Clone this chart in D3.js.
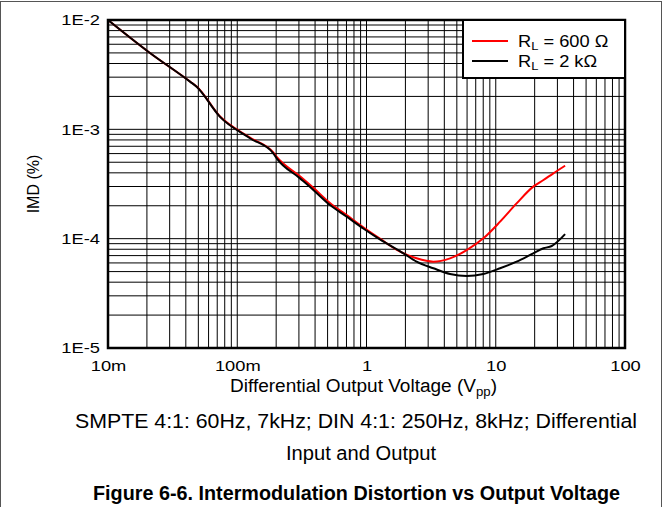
<!DOCTYPE html>
<html><head><meta charset="utf-8">
<script src="https://cdn.jsdelivr.net/npm/d3@7"></script>
<style>body{margin:0;background:#fff}svg{display:block}text{font-family:"Liberation Sans",Arial,sans-serif}</style>
</head><body><svg id="c" width="663" height="507"></svg>
<script>
const xTicks = [0.01, 0.1, 1, 10, 100];
const xTickLabels = ["10m", "100m", "1", "10", "100"];
const yTicks = [1e-2, 1e-3, 1e-4, 1e-5];
const yTickLabels = ["1E-2", "1E-3", "1E-4", "1E-5"];
const seriesNames = ["600", "2k"];
const red600x = [0.01,0.0205,0.0431,0.0485,0.0736,0.1255,0.19,0.202,0.306,0.388,0.522,0.703,0.944,1.27,1.82,2.44,3.29,4.43,5.96,8.02,10.8,14.5,19.5,23.4,27.9,34.4];
const red600y = [1e-2,5.13e-3,2.74e-3,2.47e-3,1.31e-3,8.4e-4,6.15e-4,5.6e-4,3.72e-4,2.92e-4,2.12e-4,1.64e-4,1.27e-4,1.0e-4,7.6e-5,6.61e-5,6.16e-5,6.61e-5,7.87e-5,1.007e-4,1.43e-4,2.10e-4,2.99e-4,3.44e-4,3.96e-4,4.65e-4];
const blk2kx = [0.01,0.0205,0.0431,0.0485,0.0736,0.1255,0.19,0.202,0.306,0.388,0.522,0.703,0.944,1.27,1.93,2.44,3.29,4.43,5.96,8.02,10.8,14.5,19.5,23.4,27.1,34.4];
const blk2ky = [1e-2,5.13e-3,2.73e-3,2.45e-3,1.30e-3,8.28e-4,6.04e-4,5.43e-4,3.56e-4,2.79e-4,2.03e-4,1.59e-4,1.24e-4,9.86e-5,7.35e-5,6.16e-5,5.36e-5,4.75e-5,4.55e-5,4.75e-5,5.36e-5,6.16e-5,7.35e-5,8.17e-5,8.57e-5,1.10e-4];

const svg = d3.select("#c");
const L = 108, R = 625, T = 20, B = 348;
const x = d3.scaleLog().domain([0.01, 100]).range([L, R]);
const y = d3.scaleLog().domain([1e-5, 1e-2]).range([B, T]);
const FF = '"Liberation Sans",Arial,sans-serif';

// outer border
svg.append("rect").attr("x", 0.5).attr("y", 1.5).attr("width", 661).attr("height", 540)
  .attr("fill", "none").attr("stroke", "#555").attr("stroke-width", 1);

// grid
const g = svg.append("g");
const xgrid = [];
for (let d = -2; d < 2; d++) for (let m = 1; m < 10; m++) xgrid.push(m * Math.pow(10, d));
const ygrid = [];
for (let d = -5; d < -2; d++) for (let m = 1; m < 10; m++) ygrid.push(m * Math.pow(10, d));
g.selectAll(".vx").data(xgrid).join("line")
  .attr("x1", d => x(d)).attr("x2", d => x(d)).attr("y1", T).attr("y2", B)
  .attr("stroke", "#000").attr("stroke-width", 1);
g.selectAll(".hy").data(ygrid).join("line")
  .attr("y1", d => y(d)).attr("y2", d => y(d)).attr("x1", L).attr("x2", R)
  .attr("stroke", "#000").attr("stroke-width", 1);

// curves
const line = d3.line().x(d => x(d[0])).y(d => y(d[1])).curve(d3.curveMonotoneX);
svg.append("path").datum(red600x.map((v, i) => [v, red600y[i]]))
  .attr("d", line).attr("fill", "none").attr("stroke", "#ff0000").attr("stroke-width", 2);
svg.append("path").datum(blk2kx.map((v, i) => [v, blk2ky[i]]))
  .attr("d", line).attr("fill", "none").attr("stroke", "#000").attr("stroke-width", 2);

// frame
svg.append("rect").attr("x", L).attr("y", T).attr("width", R - L).attr("height", B - T)
  .attr("fill", "none").attr("stroke", "#000").attr("stroke-width", 2.5);

// axes labels via d3 axes
const xAxis = d3.axisBottom(x).tickValues(xTicks).tickFormat((d, i) => xTickLabels[i]).tickSize(0).tickPadding(12);
const xa = svg.append("g").attr("transform", `translate(0,${B})`).call(xAxis);
xa.select(".domain").remove();
xa.selectAll("text").attr("font-size", 15).attr("fill", "#000").style("font-family", FF)
  .attr("transform", "scale(1.22,1)");
const yAxis = d3.axisLeft(y).tickValues(yTicks).tickFormat((d, i) => yTickLabels[i]).tickSize(0).tickPadding(8);
const ya = svg.append("g").attr("transform", `translate(${L},0)`).call(yAxis);
ya.select(".domain").remove();
ya.selectAll("text").attr("font-size", 15).attr("fill", "#000").style("font-family", FF)
  .attr("x", -8 / 1.22).attr("transform", "scale(1.22,1)");

// axis titles
const xt = svg.append("text").attr("x", 363.5).attr("y", 392).attr("text-anchor", "middle").attr("font-size", 18)
  .attr("textLength", 267).attr("lengthAdjust", "spacingAndGlyphs");
xt.append("tspan").text("Differential Output Voltage (V");
xt.append("tspan").attr("font-size", 12.5).attr("dy", 4).text("pp");
xt.append("tspan").attr("dy", -4).text(")");
svg.append("text").attr("transform", `translate(39,${(T + B) / 2}) rotate(-90)`)
  .attr("text-anchor", "middle").attr("font-size", 16).text("IMD (%)");

// legend
const lg = svg.append("g");
lg.append("rect").attr("x", 463).attr("y", T).attr("width", R - 463).attr("height", 58)
  .attr("fill", "#fff").attr("stroke", "#000").attr("stroke-width", 2);
const legItems = [{c: "#ff0000", main: " = 600 \u03A9"}, {c: "#000", main: " = 2 k\u03A9"}];
legItems.forEach((it, i) => {
  const yy = 41 + i * 20;
  lg.append("line").attr("x1", 472).attr("x2", 508).attr("y1", yy).attr("y2", yy).attr("stroke", it.c).attr("stroke-width", 2);
  const t = lg.append("text").attr("x", 518 / 1.12).attr("y", yy + 6).attr("font-size", 16.3)
    .attr("transform", "scale(1.12,1)");
  t.append("tspan").text("R");
  t.append("tspan").attr("font-size", 11.5).attr("dy", 3).text("L");
  t.append("tspan").attr("dy", -3).text(it.main);
});

// captions
svg.append("text").attr("x", 356).attr("y", 428).attr("text-anchor", "middle").attr("font-size", 19.5)
  .attr("textLength", 562).attr("lengthAdjust", "spacingAndGlyphs")
  .text("SMPTE 4:1: 60Hz, 7kHz; DIN 4:1: 250Hz, 8kHz; Differential");
svg.append("text").attr("x", 361).attr("y", 460).attr("text-anchor", "middle").attr("font-size", 19.5)
  .attr("textLength", 150).attr("lengthAdjust", "spacingAndGlyphs")
  .text("Input and Output");
svg.append("text").attr("x", 356.5).attr("y", 500).attr("text-anchor", "middle").attr("font-size", 19.5)
  .attr("font-weight", "bold").attr("textLength", 527).attr("lengthAdjust", "spacingAndGlyphs")
  .text("Figure 6-6. Intermodulation Distortion vs Output Voltage");
</script></body></html>
